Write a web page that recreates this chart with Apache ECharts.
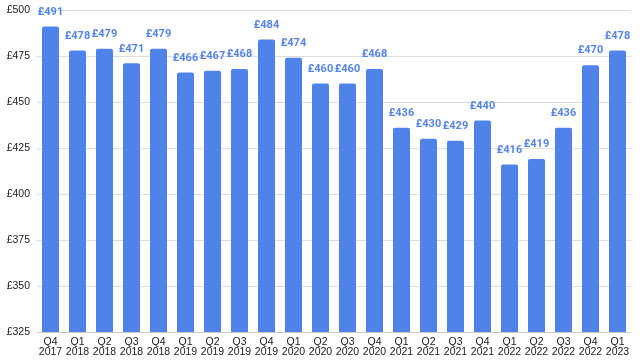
<!DOCTYPE html>
<html><head><meta charset="utf-8">
<script src="https://cdn.jsdelivr.net/npm/echarts@6/dist/echarts.min.js"></script>
<style>html,body{margin:0;padding:0;background:#fff}#c{width:640px;height:360px}</style>
</head><body><div id="c"></div>
<script>
const categories = ["Q4\n2017","Q1\n2018","Q2\n2018","Q3\n2018","Q4\n2018","Q1\n2019","Q2\n2019","Q3\n2019","Q4\n2019","Q1\n2020","Q2\n2020","Q3\n2020","Q4\n2020","Q1\n2021","Q2\n2021","Q3\n2021","Q4\n2021","Q1\n2022","Q2\n2022","Q3\n2022","Q4\n2022","Q1\n2023"];
const values = [491,478,479,471,479,466,467,468,484,474,460,460,468,436,430,429,440,416,419,436,470,478];
const yMin = 325, yMax = 500, yStep = 25;
const chart = echarts.init(document.getElementById('c'));
chart.setOption({
  animation:false,
  grid:{left:37,right:9,top:10,bottom:28,containLabel:false},
  xAxis:{type:'category',data:categories,
    axisLine:{lineStyle:{color:'#cccccc'}},axisTick:{show:false},
    axisLabel:{color:'#222',fontSize:10.5,fontFamily:'Liberation Sans, Arial, sans-serif',lineHeight:10,margin:5,interval:0}},
  yAxis:{type:'value',min:yMin,max:yMax,interval:yStep,
    axisLine:{show:false},axisTick:{show:false},
    splitLine:{lineStyle:{color:'#dddddd'}},
    axisLabel:{color:'#222',fontSize:10.5,fontFamily:'Liberation Sans, Arial, sans-serif',margin:7,formatter:v=>'£'+v}},
  series:[{type:'bar',data:values,barWidth:17,
    itemStyle:{color:'#4f83ea',borderRadius:[2,2,0,0]},
    label:{show:true,position:'top',distance:9,color:'#5585e6',fontWeight:'bold',fontSize:11,fontFamily:'Roboto, Arial, sans-serif',formatter:p=>'£'+p.value}}]
});
</script></body></html>
